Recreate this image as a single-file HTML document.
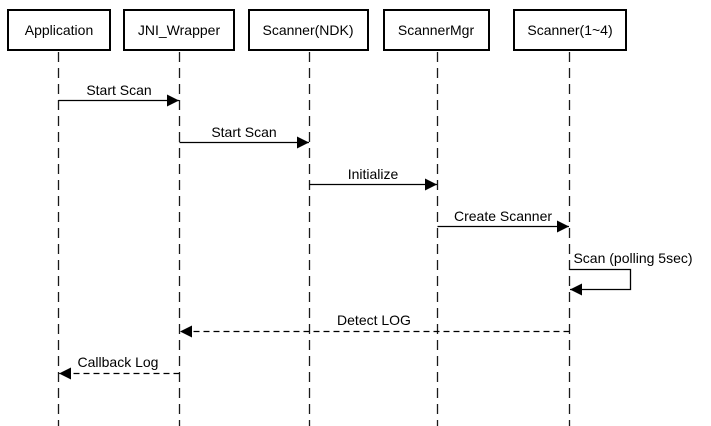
<!DOCTYPE html>
<html><head><meta charset="utf-8"><style>
html,body{margin:0;padding:0;background:#fff;}
svg{display:block;font-family:"Liberation Sans","Noto Sans CJK KR",sans-serif;}
</style></head><body>
<svg width="711" height="426" viewBox="0 0 711 426" xmlns="http://www.w3.org/2000/svg">
<defs>
<marker id="a" markerWidth="12" markerHeight="12" refX="12" refY="6" orient="auto" markerUnits="userSpaceOnUse"><path d="M0,0 L12,6 L0,12 Z" fill="#000"/></marker>
</defs>
<g stroke="#1a1a1a" stroke-width="1.3" stroke-dasharray="10,6" fill="none">
<line x1="58.5" y1="52" x2="58.5" y2="426"/>
<line x1="179.5" y1="52" x2="179.5" y2="426"/>
<line x1="309.5" y1="52" x2="309.5" y2="426"/>
<line x1="437.5" y1="52" x2="437.5" y2="426"/>
<line x1="569.5" y1="52" x2="569.5" y2="426"/>
</g>
<g stroke="#000" stroke-width="2" fill="#fff">
<rect x="8" y="10" width="102" height="40"/>
<rect x="124" y="10" width="110" height="40"/>
<rect x="249" y="10" width="119" height="40"/>
<rect x="384" y="10" width="105" height="40"/>
<rect x="514" y="10" width="112" height="40"/>
</g>
<g font-size="14" text-anchor="middle" fill="#000">
<text x="59" y="35">Application</text>
<text x="179" y="35">JNI_Wrapper</text>
<text x="308" y="35">Scanner(NDK)</text>
<text x="436" y="35">ScannerMgr</text>
<text x="570" y="35">Scanner(1~4)</text>
<text x="119" y="95">Start Scan</text>
<text x="244" y="137">Start Scan</text>
<text x="373" y="179">Initialize</text>
<text x="503" y="221">Create Scanner</text>
<text x="633" y="263">Scan (polling 5sec)</text>
<text x="374" y="325">Detect LOG</text>
<text x="118" y="367">Callback Log</text>
</g>
<g stroke="#000" stroke-width="1.3" fill="none">
<line x1="58.5" y1="100.5" x2="179" y2="100.5" marker-end="url(#a)"/>
<line x1="179.5" y1="142.5" x2="309" y2="142.5" marker-end="url(#a)"/>
<line x1="309.5" y1="184.5" x2="437" y2="184.5" marker-end="url(#a)"/>
<line x1="437.5" y1="226.5" x2="569" y2="226.5" marker-end="url(#a)"/>
<polyline points="569.5,269.5 630.5,269.5 630.5,289.5 570,289.5" marker-end="url(#a)"/>
<line x1="569.5" y1="331.5" x2="180" y2="331.5" stroke-dasharray="6,4" marker-end="url(#a)"/>
<line x1="179.5" y1="373.5" x2="59" y2="373.5" stroke-dasharray="6,4" marker-end="url(#a)"/>
</g>
</svg>
</body></html>
